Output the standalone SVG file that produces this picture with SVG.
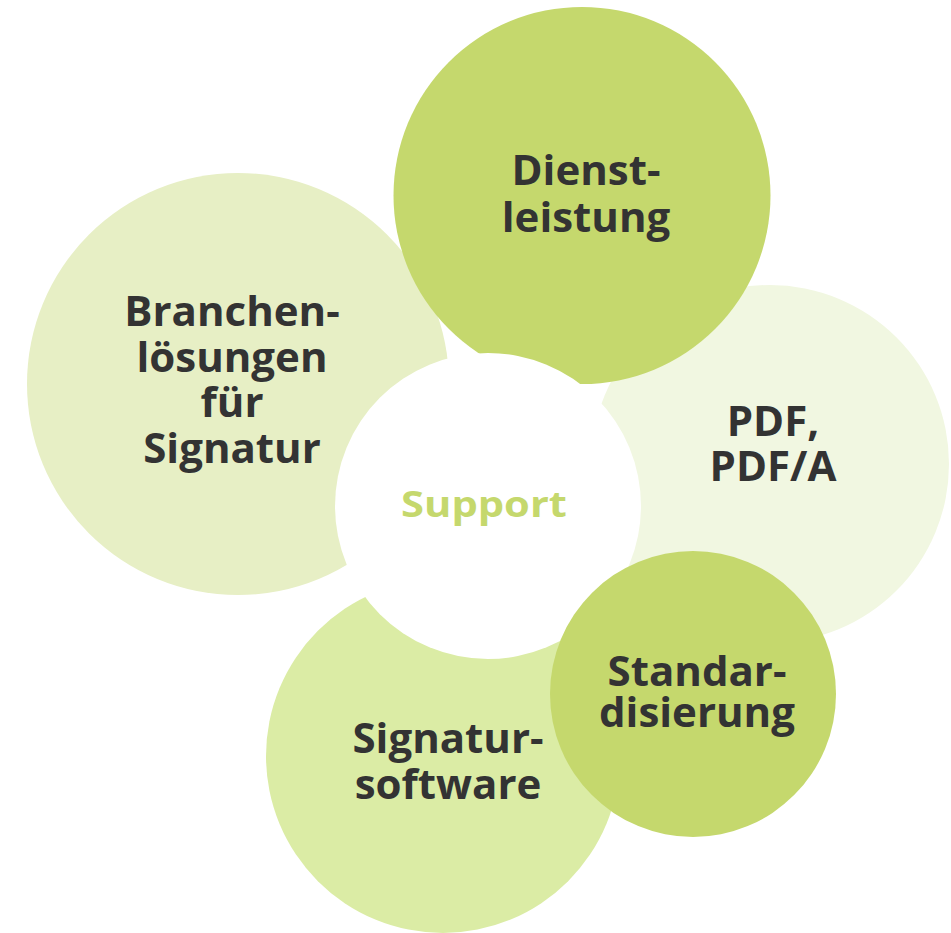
<svg xmlns="http://www.w3.org/2000/svg" width="951" height="933" viewBox="0 0 951 933">
<style>
.lbl{font-family:"Open Sans","Noto Sans","DejaVu Sans",sans-serif;font-weight:700;font-size:42px;fill:#333333;text-anchor:middle}
.ctr{font-family:"Open Sans","Noto Sans","DejaVu Sans",sans-serif;font-weight:700;font-size:35px;fill:#c5d86d;text-anchor:middle}
.dark{fill:#c5d86d}
</style>
<rect width="951" height="933" fill="#ffffff"/>
<g id="branchen">
<circle cx="238" cy="384" r="211" fill="#e7efc5"/>
</g>
<g id="pdf">
<circle cx="770" cy="464" r="179" fill="#f1f7e1"/>
</g>
<g id="signatursoftware">
<circle cx="443" cy="756" r="177" fill="#dbeca5"/>
</g>
<g id="dienstleistung">
<circle class="dark" cx="582" cy="195.5" r="188.5"/>
</g>
<g id="support">
<circle cx="488" cy="506" r="153" fill="#ffffff"/>
</g>
<g id="standardisierung">
<circle class="dark" cx="693" cy="694" r="143"/>
</g>
<g id="connectors"></g>
<g id="labels">
<text class="lbl" x="586" y="185">Dienst-</text>
<text class="lbl" x="586" y="232">leistung</text>
<text class="lbl" x="232" y="326">Branchen-</text>
<text class="lbl" x="232" y="372">lösungen</text>
<text class="lbl" x="232" y="417">für</text>
<text class="lbl" x="232" y="463">Signatur</text>
<text class="lbl" x="773" y="436">PDF,</text>
<text class="lbl" x="773" y="481">PDF/A</text>
<text class="lbl" x="697" y="686">Standar-</text>
<text class="lbl" x="697" y="727">disierung</text>
<text class="lbl" x="448" y="753">Signatur-</text>
<text class="lbl" x="448" y="799">software</text>
<text class="ctr" transform="translate(484,517) scale(1.19,1)" x="0" y="0">Support</text>
</g>
</svg>
